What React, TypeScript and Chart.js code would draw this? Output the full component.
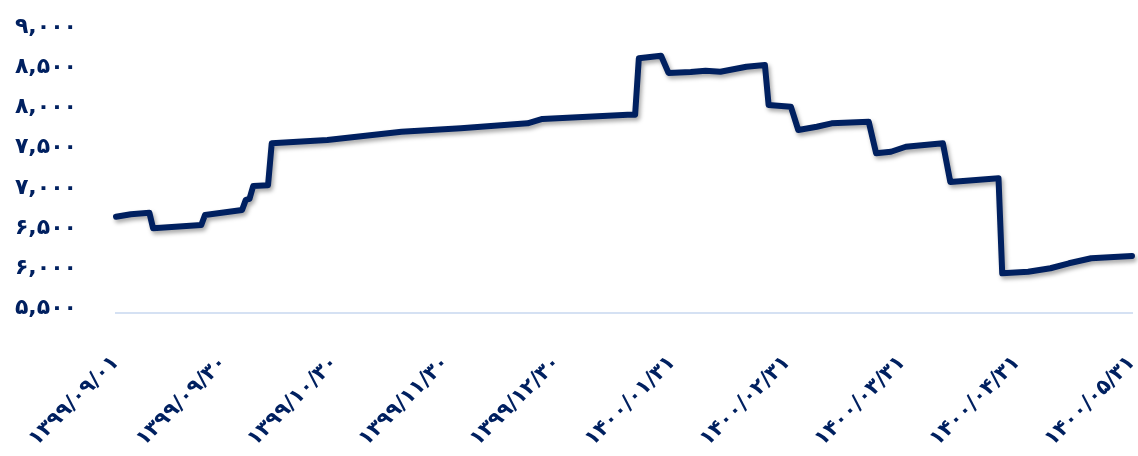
import React, { useEffect, useRef } from "react";
import { Chart, registerables } from "chart.js";

Chart.register(...registerables);

// Day offsets from 1399/09/01 and price values
const dayOffsets = [
  0, 4, 9, 10, 23, 24, 34, 35, 36, 37, 41, 42, 57, 77, 93, 111, 115, 138, 140,
  141, 147, 149, 155, 159, 163, 170, 175, 176, 182, 184, 189, 193, 203, 205,
  209, 213, 223, 225, 238, 239, 246, 252, 257, 263, 274,
];
const prices = [
  6690, 6722, 6740, 6547, 6588, 6712, 6774, 6900, 6912, 7073, 7081, 7604, 7645,
  7748, 7790, 7852, 7906, 7960, 7960, 8660, 8693, 8479, 8490, 8506, 8494, 8556,
  8577, 8080, 8059, 7769, 7810, 7852, 7872, 7479, 7499, 7561, 7604, 7122, 7168,
  5987, 6007, 6050, 6112, 6174, 6202,
];

const tickDays = [0, 29, 59, 89, 119, 150, 181, 212, 243, 274];
const tickLabels = [
  "۱۳۹۹/۰۹/۰۱",
  "۱۳۹۹/۰۹/۳۰",
  "۱۳۹۹/۱۰/۳۰",
  "۱۳۹۹/۱۱/۳۰",
  "۱۳۹۹/۱۲/۳۰",
  "۱۴۰۰/۰۱/۳۱",
  "۱۴۰۰/۰۲/۳۱",
  "۱۴۰۰/۰۳/۳۱",
  "۱۴۰۰/۰۴/۳۱",
  "۱۴۰۰/۰۵/۳۱",
];

const yMin = 5500;
const yMax = 9000;
const yStep = 500;

const NAVY = "#002060";
const FONT = "'DejaVu Sans', 'Noto Sans', sans-serif";

const faDigits = "۰۱۲۳۴۵۶۷۸۹";
function toFa(n: number): string {
  return n.toLocaleString("en-US").replace(/\d/g, (d) => faDigits[+d]);
}

const shadowPlugin = {
  id: "lineShadow",
  beforeDatasetsDraw(chart: any) {
    const ctx = chart.ctx;
    ctx.save();
    ctx.shadowColor = "rgba(0,0,0,0.35)";
    ctx.shadowBlur = 4;
    ctx.shadowOffsetX = 2;
    ctx.shadowOffsetY = 3;
  },
  afterDatasetsDraw(chart: any) {
    chart.ctx.restore();
  },
};

export default function App() {
  const canvasRef = useRef<HTMLCanvasElement | null>(null);

  useEffect(() => {
    document.body.style.margin = "0";
    const canvas = canvasRef.current;
    if (!canvas) return;
    const points = dayOffsets.map((d, i) => ({ x: d, y: prices[i] }));
    const chart = new Chart(canvas, {
      type: "line",
      data: {
        datasets: [
          {
            data: points,
            borderColor: NAVY,
            borderWidth: 6,
            borderJoinStyle: "round",
            borderCapStyle: "round",
            pointRadius: 0,
            tension: 0,
            fill: false,
            clip: false as any,
          },
        ],
      },
      options: {
        animation: false,
        responsive: true,
        maintainAspectRatio: false,
        layout: { padding: { top: 31, right: 6, left: 0, bottom: 0 } },
        plugins: {
          legend: { display: false },
          tooltip: { enabled: false },
        },
        scales: {
          x: {
            type: "linear",
            min: tickDays[0],
            max: tickDays[tickDays.length - 1],
            afterBuildTicks: (scale: any) => {
              scale.ticks = tickDays.map((v) => ({ value: v }));
            },
            afterFit: (scale: any) => {
              scale.height = 143.5;
              scale.paddingLeft = 0;
              scale.paddingRight = 0;
            },
            grid: { display: false, drawTicks: false },
            border: { display: true, color: "#d5e1f3", width: 2 },
            ticks: {
              autoSkip: false,
              minRotation: 45,
              maxRotation: 45,
              padding: 38,
              color: NAVY,
              font: { family: FONT, size: 21, weight: "bold" },
              callback: (_v: any, i: number) => tickLabels[i],
            },
          },
          y: {
            type: "linear",
            min: yMin,
            max: yMax,
            afterFit: (scale: any) => {
              scale.width = 116;
              scale.paddingTop = 0;
              scale.paddingBottom = 0;
            },
            grid: { display: false, drawTicks: false },
            border: { display: false },
            ticks: {
              stepSize: yStep,
              padding: 39,
              labelOffset: -4,
              color: NAVY,
              font: { family: FONT, size: 22, weight: "bold" },
              callback: (v: any) => toFa(Number(v)),
            },
          },
        },
      },
      plugins: [shadowPlugin],
    });
    return () => chart.destroy();
  }, []);

  return (
    <div style={{ width: 1138, height: 456, position: "relative" }}>
      <canvas ref={canvasRef} style={{ display: "block" }} />
    </div>
  );
}
